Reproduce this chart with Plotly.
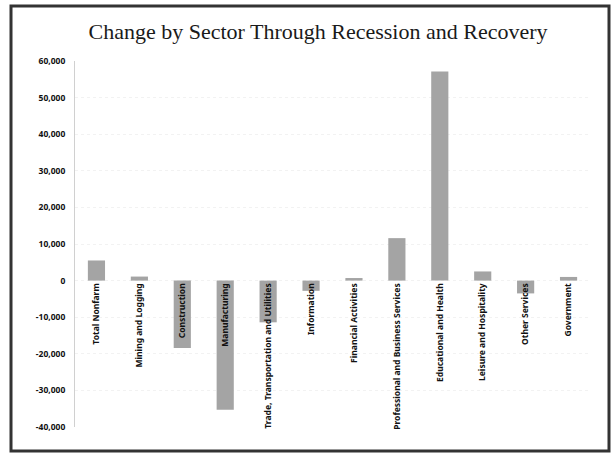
import plotly.graph_objects as go

categories = [
    "Total Nonfarm", "Mining and Logging", "Construction", "Manufacturing",
    "Trade, Transportation and Utilities", "Information", "Financial Activities",
    "Professional and Business Services", "Educational and Health",
    "Leisure and Hospitality", "Other Services", "Government",
]
values = [5500, 1100, -18400, -35300, -11400, -2800, 700, 11600, 57100, 2500, -3500, 1000]

tick_vals = [60000, 50000, 40000, 30000, 20000, 10000, 0, -10000, -20000, -30000, -40000]
tick_text = ["60,000", "50,000", "40,000", "30,000", "20,000", "10,000", "0",
             "-10,000", "-20,000", "-30,000", "-40,000"]

W, H = 612, 455
L, R, T, B = 75, 22, 61, 28
pw, ph = W - L - R, H - T - B

fig = go.Figure(go.Bar(
    x=categories, y=values, width=0.4,
    marker=dict(color="#a4a4a4", line=dict(width=0)),
))

def px_to_paper_x(px):
    return (px - L) / pw

def px_to_paper_y(py):
    return (H - B - py) / ph

fig.update_layout(
    width=W, height=H,
    margin=dict(l=L, r=R, t=T, b=B),
    paper_bgcolor="white", plot_bgcolor="white",
    showlegend=False,
    title=dict(
        text="Change by Sector Through Recession and Recovery",
        font=dict(family="Liberation Serif", size=22, color="#1a1a1a"),
        x=318 / W, xanchor="center", xref="container",
        y=1 - 31 / H, yanchor="middle", yref="container",
    ),
    xaxis=dict(
        anchor="free", position=0.4,
        tickangle=-90, showline=False, ticks="", showgrid=False,
        tickfont=dict(family="Noto Sans", size=8.5, color="#111111", weight="bold"),
        range=[-0.5, len(categories) - 0.5],
    ),
    yaxis=dict(
        range=[-40000, 60000], tickvals=tick_vals, ticktext=tick_text,
        tickfont=dict(family="Noto Sans", size=8.5, color="#111111", weight="bold"),
        showgrid=True, gridcolor="#f2f2f2", griddash="dot", gridwidth=1,
        zeroline=False, showline=True, linecolor="#d0d0d0", linewidth=1,
        ticks="", ticklabelstandoff=7,
    ),
    shapes=[dict(
        type="rect", xref="paper", yref="paper",
        x0=px_to_paper_x(11), x1=px_to_paper_x(609),
        y0=px_to_paper_y(451), y1=px_to_paper_y(6),
        line=dict(color="#333333", width=3), fillcolor="rgba(0,0,0,0)",
        layer="above",
    )],
)

fig.write_html(
    "out.html",
    config={"displayModeBar": False},
    post_script="document.body.style.margin='0';document.body.style.overflow='hidden';",
)
